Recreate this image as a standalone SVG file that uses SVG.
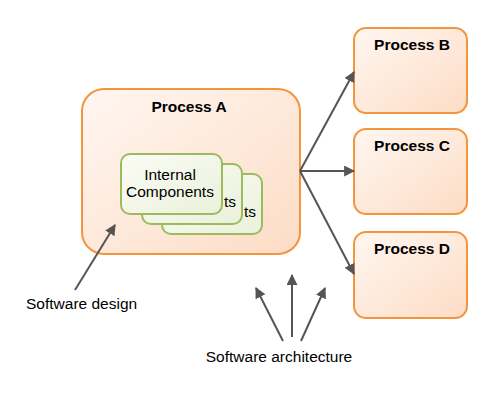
<svg xmlns="http://www.w3.org/2000/svg" width="499" height="400" viewBox="0 0 499 400">
<defs>
<linearGradient id="og" x1="0" y1="0" x2="1" y2="1">
<stop offset="0" stop-color="#FFF7F1"/>
<stop offset="1" stop-color="#FDDCC5"/>
</linearGradient>
<linearGradient id="gg" x1="0" y1="0" x2="1" y2="1">
<stop offset="0" stop-color="#FBFCF6"/>
<stop offset="1" stop-color="#EAF1DA"/>
</linearGradient>
<marker id="ah" viewBox="0 0 10 10" refX="9" refY="5" markerWidth="5.5" markerHeight="5.5" orient="auto" markerUnits="strokeWidth">
<path d="M0,0 L10,5 L0,10 z" fill="#555"/>
</marker>
</defs>
<style>
.proc{fill:url(#og);stroke:#F5943F;stroke-width:2}
.comp{fill:url(#gg);stroke:#9BBB5C;stroke-width:2}
.title{font-family:"Liberation Sans",Arial,sans-serif;font-size:15.5px;font-weight:bold;fill:#000;text-anchor:middle}
.lbl{font-family:"Liberation Sans",Arial,sans-serif;font-size:15.5px;fill:#000;text-anchor:middle}
.end{text-anchor:end}
.arr{stroke:#555;stroke-width:2;fill:none;marker-end:url(#ah)}
</style>
<g id="processA">
<rect class="proc" x="82" y="89" width="218" height="165" rx="22"/>
<text class="title" x="189" y="112">Process A</text>
</g>
<g id="comp3">
<rect class="comp" x="162" y="174" width="100" height="60" rx="9"/>
<text class="lbl end" x="256" y="217">ts</text>
</g>
<g id="comp2">
<rect class="comp" x="142" y="164" width="100" height="60" rx="9"/>
<text class="lbl end" x="236" y="207">ts</text>
</g>
<g id="comp1">
<rect class="comp" x="121" y="154" width="101" height="60" rx="9"/>
<text class="lbl" x="170" y="180">Internal</text>
<text class="lbl" x="170" y="197">Components</text>
</g>
<g id="processB">
<rect class="proc" x="354" y="28" width="113" height="85" rx="12"/>
<text class="title" x="412" y="50">Process B</text>
</g>
<g id="processC">
<rect class="proc" x="354" y="129" width="113" height="85" rx="12"/>
<text class="title" x="412" y="151">Process C</text>
</g>
<g id="processD">
<rect class="proc" x="354" y="232" width="113" height="86" rx="12"/>
<text class="title" x="412" y="254">Process D</text>
</g>
<g id="connectors">
<line class="arr" x1="300" y1="171" x2="354" y2="72"/>
<line class="arr" x1="300" y1="171" x2="354" y2="171"/>
<line class="arr" x1="300" y1="171" x2="354" y2="274"/>
<line class="arr" x1="75" y1="290" x2="115" y2="225"/>
<line class="arr" x1="283" y1="341" x2="256" y2="288"/>
<line class="arr" x1="292" y1="337" x2="292" y2="275"/>
<line class="arr" x1="301" y1="341" x2="325" y2="288"/>
</g>
<g id="labels">
<text class="lbl" x="26" y="309" style="text-anchor:start">Software design</text>
<text class="lbl" x="279" y="362">Software architecture</text>
</g>
</svg>
